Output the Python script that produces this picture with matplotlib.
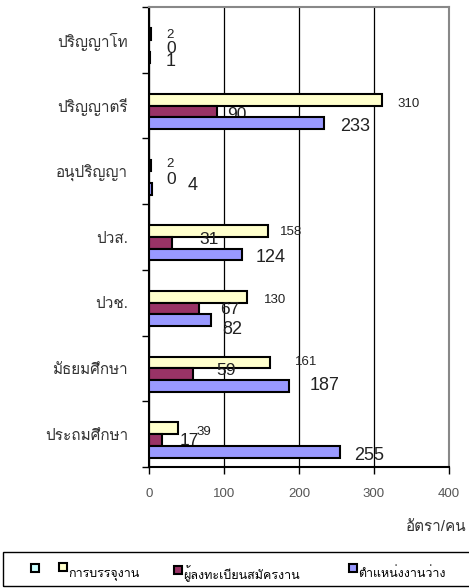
import numpy as np
import matplotlib
matplotlib.use('Agg')
import matplotlib.pyplot as plt
import matplotlib.patches as mpatch
from matplotlib import font_manager
from matplotlib.ft2font import FT2Font
from matplotlib.legend_handler import HandlerPatch

# look for any installed font that carries Thai glyphs
thai_font = None
for f in font_manager.fontManager.ttflist:
    try:
        if 0x0E01 in FT2Font(f.fname).get_charmap():
            thai_font = f.name
            break
    except Exception:
        pass

fams = ['Liberation Sans']
if thai_font:
    fams.append(thai_font)
fams.append('DejaVu Sans')
plt.rcParams['font.family'] = fams

# data (top to bottom as shown)
categories = ['ปริญญาโท', 'ปริญญาตรี', 'อนุปริญญา', 'ปวส.', 'ปวช.', 'มัธยมศึกษา', 'ประถมศึกษา']
series_names = ['', 'การบรรจุงาน', 'ผู้ลงทะเบียนสมัครงาน', 'ตำแหน่งงานว่าง']
placed = [2, 310, 2, 158, 130, 161, 39]
registered = [0, 90, 0, 31, 67, 59, 17]
vacancies = [1, 233, 4, 124, 82, 187, 255]
x_ticks = [0, 100, 200, 300, 400]
x_title = 'อัตรา/คน'

colors = ['#CCFFFF', '#FFFFCC', '#993366', '#9999FF']

# label nudges in pixels (dx from bar end, dy downward from bar centre)
lab_dx = [[16, 16, 16, 12, 17, 25, 18],
          [17, 11, 17, 27, 21, 23, 18],
          [16, 16, 36, 14, 12, 20, 14]]
lab_dy = [[-1, 3, -3, -1, 2, -2, 2],
          [1, 2, 1, -5, -1, -5, -1],
          [2, 1, -5, 1, 7, -2, 2]]
lab_size = [9.5, 12.5, 13]

fig = plt.figure(figsize=(4.69, 5.88), dpi=100)
ax = fig.add_axes([149/469, 1-467/588, 300/469, 460/588])

n = len(categories)
ypos = n - 0.5 - np.arange(n)
h = 0.178
offs = [0.5*h, -0.5*h, -1.5*h]   # slot +1.5h is the empty first series
zs = [2, 2, 3.5]

for k, vals in enumerate([placed, registered, vacancies]):
    vals = np.array(vals)
    yy = ypos + offs[k]
    m = vals > 0
    ax.barh(yy[m], vals[m], height=h, color=colors[k+1], edgecolor='black',
            linewidth=1.5, zorder=zs[k])
    for i in range(n):
        ax.annotate(str(vals[i]), xy=(vals[i], yy[i]), xytext=(lab_dx[k][i]*0.72, -lab_dy[k][i]*0.72),
                    textcoords='offset points', ha='left', va='center_baseline',
                    fontsize=lab_size[k], color='#222222', zorder=3)

ax.set_xlim(0, 400)
ax.set_ylim(0, n)
ax.set_xticks(x_ticks)
ax.xaxis.grid(True, color='black', linewidth=0.9)
ax.set_axisbelow(True)
ax.set_yticks(np.arange(n+1))
ax.set_yticklabels([])
ax.set_yticks(ypos, minor=True)
ax.set_yticklabels(categories, minor=True)
ax.tick_params(axis='y', which='major', length=5, width=1, direction='out')
ax.tick_params(axis='y', which='minor', length=0, pad=15, labelsize=11, labelcolor='#333333')
ax.tick_params(axis='x', length=5, width=1, direction='out', pad=10, labelsize=9.5, labelcolor='#555555')
for s in ['left', 'bottom']:
    ax.spines[s].set_linewidth(1.5)
    ax.spines[s].set_color('black')
for s in ['top', 'right']:
    ax.spines[s].set_linewidth(1.5)
    ax.spines[s].set_color('#888888')

fig.text(467/469, 1-527/588, x_title, ha='right', va='center', fontsize=11, color='#333333')

# legend: squares sit a bit higher than their text
def raised_square(legend, orig_handle, xdescent, ydescent, width, height, fontsize):
    return mpatch.Rectangle((-xdescent, -ydescent + 0.6*height), width, width)

leg_x = [31, 59, 174, 349]
for c, name, lx in zip(colors, series_names, leg_x):
    hnd = mpatch.Patch(facecolor=c, edgecolor='black', linewidth=1.5)
    fig.legend([hnd], [name], loc='center left', bbox_to_anchor=(lx/469, 1-574/588),
               frameon=False, fontsize=9, handlelength=0.65, handleheight=0.65,
               handletextpad=0.1, borderpad=0, borderaxespad=0,
               handler_map={mpatch.Patch: HandlerPatch(patch_func=raised_square)})
fig.patches.append(mpatch.Rectangle((3/469, 2/588), 1.0, 34/588, transform=fig.transFigure,
                                    fill=False, edgecolor='black', linewidth=1))

fig.savefig('out.png', dpi=100)
